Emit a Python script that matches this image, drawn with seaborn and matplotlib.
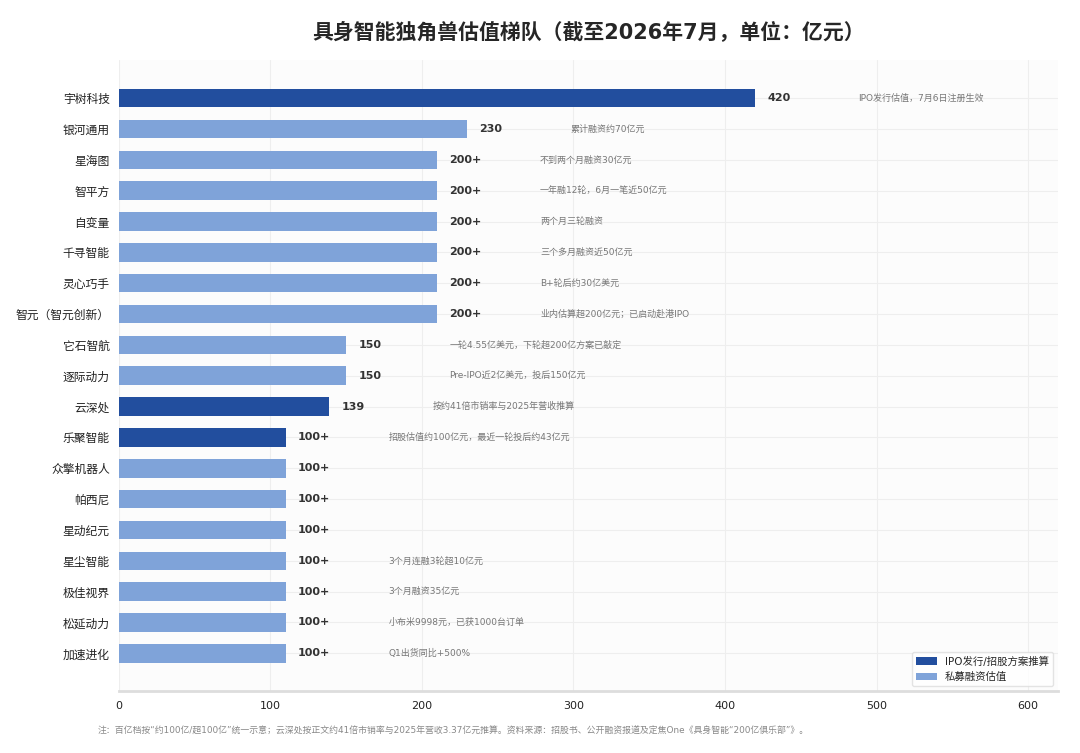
import pandas as pd
import matplotlib
matplotlib.use("Agg")
import matplotlib.pyplot as plt
import seaborn as sns

# 数据
companies = ["宇树科技", "银河通用", "星海图", "智平方", "自变量", "千寻智能", "灵心巧手",
             "智元（智元创新）", "它石智航", "逐际动力", "云深处", "乐聚智能", "众擎机器人",
             "帕西尼", "星动纪元", "星尘智能", "极佳视界", "松延动力", "加速进化"]
values = [420, 230, 210, 210, 210, 210, 210, 210, 150, 150, 139, 110, 110, 110, 110, 110, 110, 110, 110]
value_labels = ["420", "230", "200+", "200+", "200+", "200+", "200+", "200+", "150", "150", "139",
                "100+", "100+", "100+", "100+", "100+", "100+", "100+", "100+"]
types = ["IPO发行/招股方案推算", "私募融资估值", "私募融资估值", "私募融资估值", "私募融资估值",
         "私募融资估值", "私募融资估值", "私募融资估值", "私募融资估值", "私募融资估值",
         "IPO发行/招股方案推算", "IPO发行/招股方案推算", "私募融资估值", "私募融资估值",
         "私募融资估值", "私募融资估值", "私募融资估值", "私募融资估值", "私募融资估值"]
notes = ["IPO发行估值，7月6日注册生效", "累计融资约70亿元", "不到两个月融资30亿元",
         "一年融12轮，6月一笔近50亿元", "两个月三轮融资", "三个多月融资近50亿元",
         "B+轮后约30亿美元", "业内估算超200亿元；已启动赴港IPO",
         "一轮4.55亿美元，下轮超200亿方案已敲定", "Pre-IPO近2亿美元，投后150亿元",
         "按约41倍市销率与2025年营收推算", "招股估值约100亿元，最近一轮投后约43亿元",
         "", "", "", "3个月连融3轮超10亿元", "3个月融资35亿元",
         "小布米9998元，已获1000台订单", "Q1出货同比+500%"]

df = pd.DataFrame({"公司": companies, "估值": values, "类型": types})

sns.set_style("white")
plt.rcParams["font.family"] = ["DejaVu Sans", "Noto Sans CJK SC"]
plt.rcParams["axes.unicode_minus"] = False

fig = plt.figure(figsize=(10.8, 7.53), dpi=100)
ax = fig.add_axes([0.110, 0.082, 0.870, 0.838])
ax.set_facecolor("#fcfcfc")

palette = {"IPO发行/招股方案推算": "#224e9e", "私募融资估值": "#7fa3d9"}
sns.barplot(data=df, y="公司", x="估值", hue="类型", hue_order=list(palette.keys()),
            palette=palette, dodge=False, width=0.6, saturation=1, linewidth=0, ax=ax)

ax.set_xlim(0, 620)
ax.set_ylim(19.23, -1.23)
ax.set_xticks([0, 100, 200, 300, 400, 500, 600])
ax.grid(True, color="#eeeeee", linewidth=0.8)
ax.set_axisbelow(True)
for s in ["top", "right", "left"]:
    ax.spines[s].set_visible(False)
ax.spines["bottom"].set_color("#dddddd")
ax.spines["bottom"].set_linewidth(2)
ax.tick_params(axis="both", length=3, color="#333333", colors="#222222")
ax.tick_params(axis="y", labelsize=8.5)
ax.tick_params(axis="x", labelsize=8, pad=4)
ax.set_xlabel("")
ax.set_ylabel("")

for i, (v, lab, note) in enumerate(zip(values, value_labels, notes)):
    ax.text(v + 8, i, lab, va="center", ha="left", fontsize=8, fontweight="bold", color="#333333")
    if note:
        ax.text(v + 68, i, note, va="center", ha="left", fontsize=6.5, color="#777777")

ax.set_title("具身智能独角兽估值梯队（截至2026年7月，单位：亿元）", fontsize=15,
             fontweight="bold", pad=16)

leg = ax.legend(loc="lower right", fontsize=7.5, frameon=True, title=None,
                bbox_to_anchor=(1.0, 0.0))
leg.get_frame().set_edgecolor("#dddddd")

fig.text(0.09, 0.029, "注：百亿档按\u201c约100亿/超100亿\u201d统一示意；云深处按正文约41倍市销率与2025年营收3.37亿元推算。"
         "资料来源：招股书、公开融资报道及定焦One《具身智能\u201c200亿俱乐部\u201d》。",
         fontsize=6.4, color="#888888", ha="left", va="center")

fig.savefig("out.png", dpi=100, facecolor="white")
